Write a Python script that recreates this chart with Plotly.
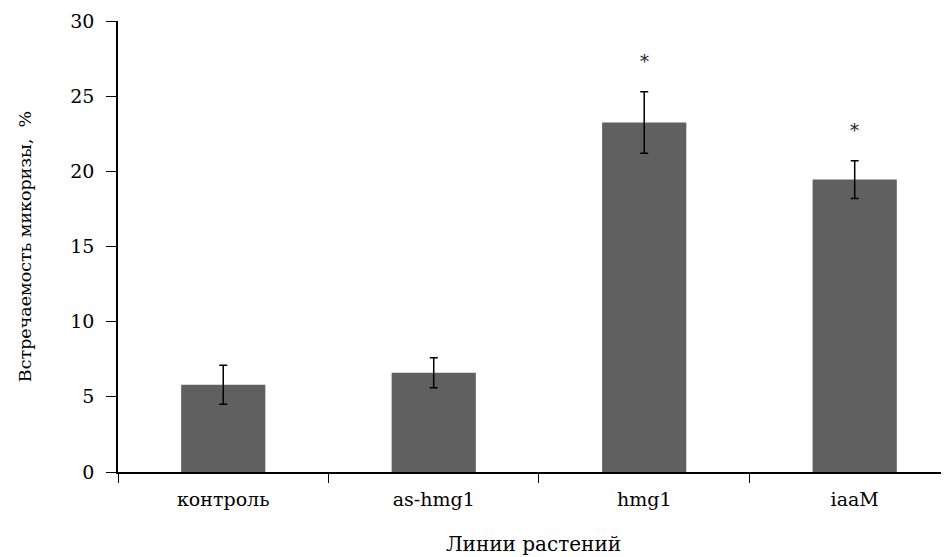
import plotly.graph_objects as go

categories = ["контроль", "as-hmg1", "hmg1", "iaaM"]
values = [5.8, 6.6, 23.25, 19.45]
errors = [1.3, 1.0, 2.05, 1.25]
marks = ["", "", "*", "*"]
y_ticks = [0, 5, 10, 15, 20, 25, 30]

FONT = "DejaVu Serif"

fig = go.Figure()
fig.add_trace(go.Bar(
    x=categories,
    y=values,
    width=0.4,
    marker=dict(color="#606060", line=dict(width=0)),
    error_y=dict(type="data", array=errors, visible=True,
                 color="black", thickness=1.5, width=4),
    showlegend=False,
))

for c, v, e, m in zip(categories, values, errors, marks):
    if m:
        fig.add_annotation(x=c, y=v + e, text=m, showarrow=False,
                           yanchor="middle", yshift=30,
                           font=dict(family=FONT, size=18, color="#222"))

fig.update_layout(
    width=941, height=549,
    margin=dict(l=110, r=0, t=13, b=85, autoexpand=False),
    paper_bgcolor="white", plot_bgcolor="white",
    font=dict(family=FONT, size=18, color="black"),
    xaxis=dict(
        range=[-0.5, 3.448],
        showline=True, linecolor="black", linewidth=1.5,
        ticks="outside", ticklen=9, tickwidth=1, tickcolor="black",
        tickson="boundaries",
        showgrid=False, zeroline=False, automargin=False,
        ticklabelstandoff=9,
        title=dict(text="Линии растений", font=dict(family=FONT, size=20), standoff=28),
        tickfont=dict(family=FONT, size=19),
    ),
    yaxis=dict(
        range=[0, 30],
        tickvals=y_ticks,
        showline=True, linecolor="black", linewidth=1.5,
        ticks="outside", ticklen=10, tickwidth=1, tickcolor="black",
        showgrid=False, zeroline=False, automargin=False,
        ticklabelstandoff=8,
        title=dict(text="Встречаемость микоризы,  %", font=dict(family=FONT, size=17.5), standoff=34),
        tickfont=dict(family=FONT, size=19),
    ),
)

fig.write_html("out.html")
